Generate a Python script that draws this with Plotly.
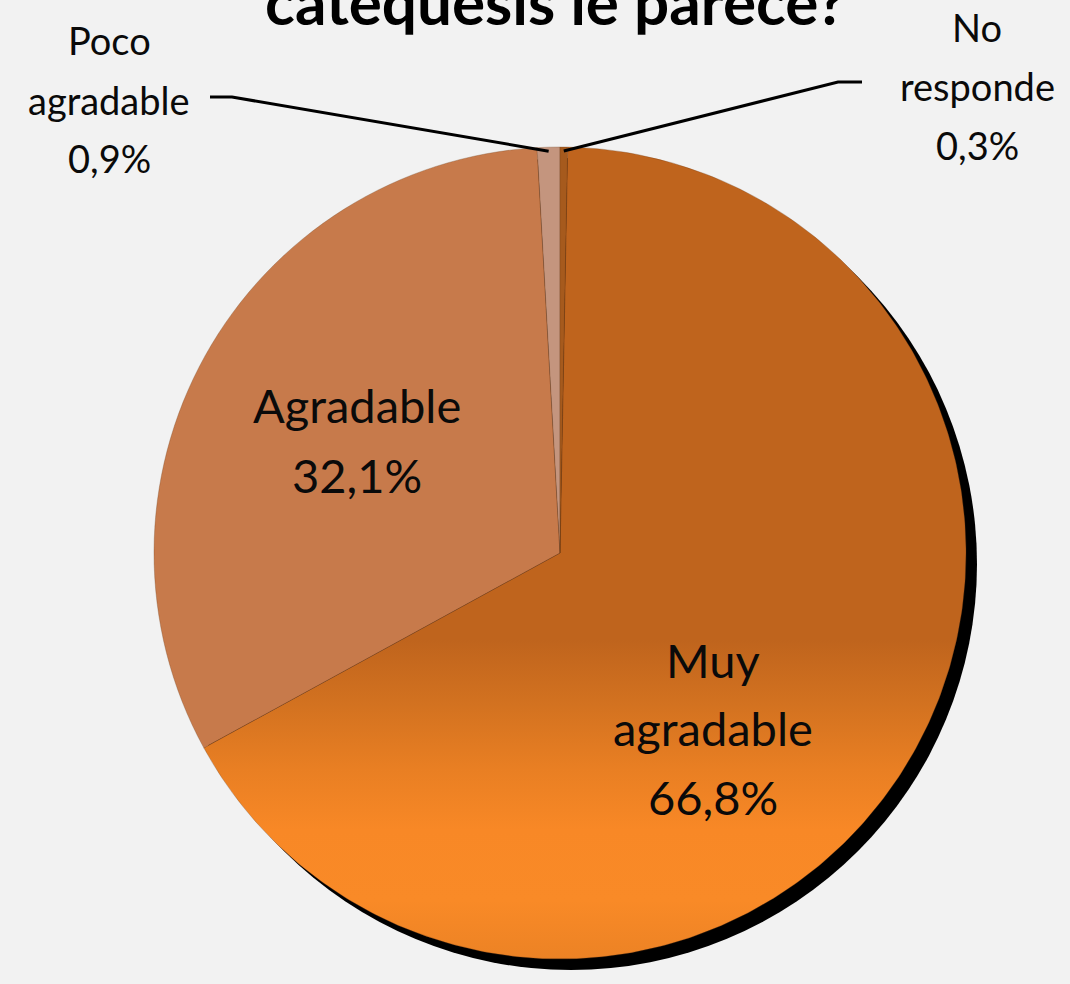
import math
import plotly.graph_objects as go

# ---- data ----
categories = ["Muy agradable", "Agradable", "Poco agradable", "No responde"]
values = [66.8, 32.1, 0.9, 0.3]
colors = ["#c4671f", "#c77a4b", "#c4957e", "#a65a1d"]
title_text = "catequesis le parece?"

# ---- layout constants ----
W, H = 1070, 984
CX, CY, R = 560, 553, 406      # pie centre / radius in pixels
SHADOW = 11                    # shadow offset in pixels
total = sum(values)
rotation = 360 * values[-1] / total   # first slice starts just after 12 o'clock


def paper(x, y):
    return x / W, 1 - y / H


def domain(cx, cy, r):
    x0, y1 = paper(cx - r, cy - r)
    x1, y0 = paper(cx + r, cy + r)
    return dict(x=[x0, x1], y=[y0, y1])


def fmt(v):
    return f"{v:.1f}".replace(".", ",") + "%"


def slice_bounds(i):
    start = rotation + 360 * sum(values[:i]) / total
    return start, start + 360 * values[i] / total


fig = go.Figure()

# gradient fill for the big slice (drawn in pixel-scaled hidden axes, under the pie layer)
a0, a1 = slice_bounds(0)
n = 400
xs, ys = [CX], [H - CY]
for k in range(n + 1):
    a = math.radians(a0 + (a1 - a0) * k / n)
    xs.append(CX + R * math.sin(a))
    ys.append(H - (CY - R * math.cos(a)))
xs.append(CX)
ys.append(H - CY)


def p(ypix):
    return (H - ypix) / H


fig.add_trace(go.Scatter(
    x=xs, y=ys, mode="lines", fill="toself", line=dict(width=0),
    hoverinfo="skip", showlegend=False,
    fillgradient=dict(
        type="vertical", start=0, stop=H,
        colorscale=[[0, "#e27b20"], [p(968), "#ea8124"], [p(900), "#f98a27"],
                    [p(830), "#f88826"], [p(770), "#e97f23"], [p(705), "#d37220"],
                    [p(640), "#bf641d"], [1, "#bf641d"]],
    ),
))

fig.add_trace(go.Pie(
    labels=categories, values=values, sort=False, direction="clockwise",
    rotation=rotation, textinfo="none", showlegend=False,
    marker=dict(colors=["rgba(0,0,0,0)"] + colors[1:],
                line=dict(width=0.6, color="rgba(110,60,25,0.5)")),
    domain=domain(CX, CY, R),
))

annotations = []
shapes = []

# drop shadow behind the pie
sx0, sy1 = paper(CX + SHADOW - R, CY + SHADOW - R)
sx1, sy0 = paper(CX + SHADOW + R, CY + SHADOW + R)
shapes.append(dict(type="circle", xref="paper", yref="paper", layer="below",
                   x0=sx0, x1=sx1, y0=sy0, y1=sy1,
                   fillcolor="#000000", line=dict(width=0)))


def add_lines(lines, x, ys_, size):
    for line, y in zip(lines, ys_):
        ax, ay = paper(x, y)
        annotations.append(dict(
            x=ax, y=ay, xref="paper", yref="paper", text=line,
            showarrow=False, xanchor="center", yanchor="middle",
            font=dict(family="Lato", size=size, color="#0a0a0a"),
        ))


# inside labels
add_lines(["Agradable", fmt(values[1])], 357, [405, 475], 47)
add_lines(["Muy", "agradable", fmt(values[0])], 713, [660, 728, 797], 47)

# outside labels
add_lines(["Poco", "agradable", fmt(values[2])], 109, [40, 100, 158], 38)
add_lines(["No", "responde", fmt(values[3])], 977, [27, 86, 145], 38)


def edge_point(i, rr):
    s, e = slice_bounds(i)
    a = math.radians((s + e) / 2)
    return CX + rr * math.sin(a), CY - rr * math.cos(a)


# leader lines
for i, knee, end in [(2, (232, 97), (210, 97)), (3, (838, 82), (862, 82))]:
    ex, ey = edge_point(i, R - 4)
    pts = [paper(ex, ey), paper(*knee), paper(*end)]
    path = "M " + " L ".join(f"{px},{py}" for px, py in pts)
    shapes.append(dict(type="path", xref="paper", yref="paper", path=path,
                       line=dict(color="#000000", width=3)))

# title (cropped at the top of the page like the reference)
tx, ty = paper(555, 40)
annotations.append(dict(
    x=tx, y=ty, xref="paper", yref="paper", text=f"<b>{title_text}</b>",
    showarrow=False, xanchor="center", yanchor="bottom",
    font=dict(family="Lato", size=62, color="#000000"),
))

fig.update_layout(
    width=W, height=H,
    margin=dict(l=0, r=0, t=0, b=0),
    paper_bgcolor="#f2f2f2", plot_bgcolor="rgba(0,0,0,0)",
    xaxis=dict(range=[0, W], visible=False, fixedrange=True, domain=[0, 1]),
    yaxis=dict(range=[0, H], visible=False, fixedrange=True, domain=[0, 1]),
    annotations=annotations, shapes=shapes,
    showlegend=False,
)

fig.write_html(
    "out.html",
    config={"displayModeBar": False},
    post_script="document.body.style.margin='0';document.body.style.background='#f2f2f2';",
)
